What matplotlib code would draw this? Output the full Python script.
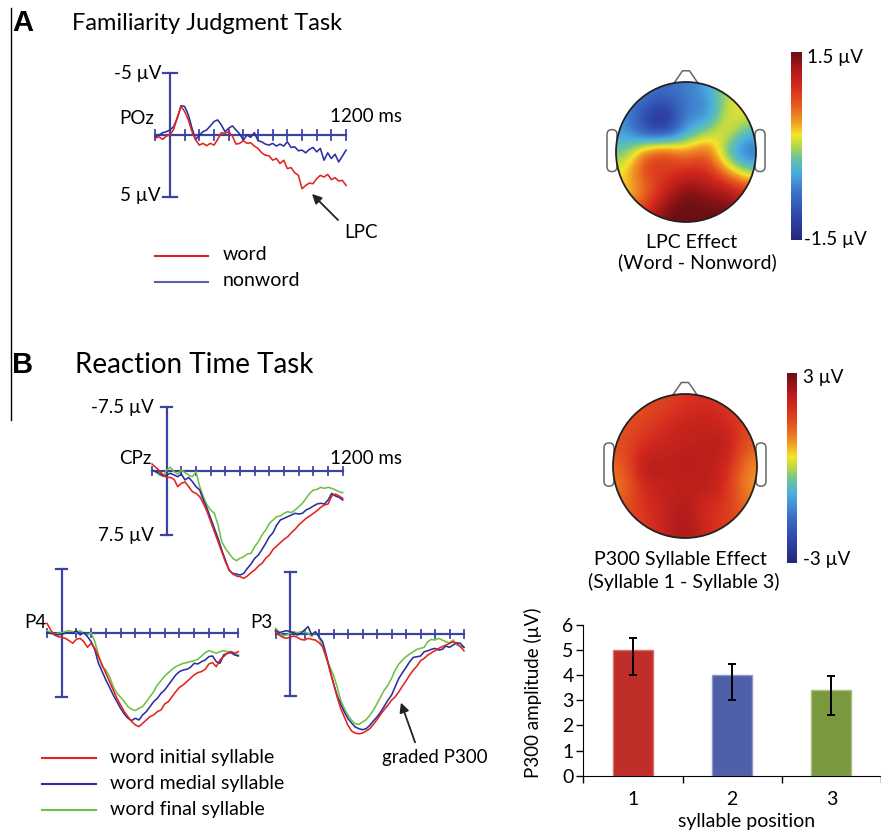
import matplotlib.pyplot as plt
import numpy as np
from matplotlib.colors import LinearSegmentedColormap
from matplotlib.patches import Circle, FancyBboxPatch

plt.rcParams['font.family'] = ['Lato', 'DejaVu Sans']

W, H = 881, 831

# ERP time base (ms), one sample every 25 ms
times = np.arange(-100, 1201, 25)

# Familiarity judgment task, POz (µV, negative plotted up)
poz_word = [0.27, 0.14, 0.36, 0.08, 0.0, -0.46, -1.45, -2.32, -1.91, -1.23,
            -0.27, 0.41, 0.82, 0.68, 0.87, 0.68, 0.82, 0.36, -0.19, -0.14,
            -0.27, 0.08, 0.74, 0.68, 0.46, 0.68, 0.63, 0.90, 1.09, 1.45,
            1.64, 1.69, 2.05, 1.91, 2.32, 2.05, 2.73, 2.65, 3.06, 3.28,
            4.37, 4.10, 3.91, 3.96, 3.55, 3.28, 3.42, 3.20, 3.63, 3.47,
            3.74, 3.69, 4.10]
poz_nonword = [0.14, 0.0, -0.19, -0.27, -0.41, -0.68, -1.37, -2.38, -2.32, -1.64,
               -0.55, 0.36, 0.0, -0.27, -0.41, -0.74, -1.09, -1.23, -0.82, -0.27,
               -0.55, -0.74, -0.41, -0.08, 0.41, 0.0, 0.19, -0.19, 0.46, 0.55,
               0.74, 0.82, 0.68, 0.90, 0.74, 0.90, 0.55, 1.01, 0.96, 1.28,
               1.23, 1.45, 1.17, 1.01, 1.37, 1.09, 2.05, 1.45, 1.91, 1.56,
               2.19, 1.72, 1.23]

# Reaction time task: CPz, P4, P3 for initial / medial / final syllables
cpz_initial = [-0.82, -0.43, -0.04, 0.47, 0.75, 0.75, 0.98, 1.84, 1.45, 1.29,
               1.84, 2.43, 2.63, 3.02, 3.80, 4.78, 5.96, 7.14, 8.31, 9.49,
               10.67, 11.65, 12.12, 12.35, 12.43, 12.63, 12.35, 11.96, 11.65, 11.18,
               10.86, 10.27, 9.88, 9.22, 8.82, 8.43, 8.04, 7.73, 7.25, 6.86,
               6.35, 5.96, 5.57, 5.29, 4.98, 4.67, 4.27, 4.00, 3.88, 2.94,
               2.71, 2.94, 3.22]
cpz_medial = [-0.12, 0.08, 0.27, 0.59, 0.47, 0.27, 0.47, 0.67, 0.35, 1.06,
              0.75, 1.25, 1.84, 2.24, 3.41, 4.39, 5.57, 6.75, 7.92, 9.29,
              10.47, 11.65, 12.04, 12.12, 12.24, 12.04, 11.45, 10.94, 10.27, 9.88,
              9.22, 8.51, 7.73, 7.25, 6.35, 5.76, 5.57, 5.37, 5.18, 4.98,
              5.06, 4.98, 4.59, 4.39, 4.12, 3.88, 3.80, 3.88, 3.41, 2.63,
              2.94, 3.10, 3.41]
cpz_final = [-0.12, 0.08, 0.47, 0.59, -0.12, -0.43, 0.08, 0.35, -0.12, 0.20,
             0.47, 0.67, 0.08, 1.84, 3.02, 4.00, 4.59, 4.98, 6.35, 8.31,
             9.10, 9.69, 10.27, 10.55, 10.27, 10.08, 9.76, 9.69, 8.90, 8.31,
             7.53, 6.94, 6.16, 5.76, 5.37, 5.29, 4.98, 4.78, 4.90, 4.59,
             4.20, 3.80, 3.22, 2.63, 2.24, 2.16, 1.92, 2.04, 1.92, 2.04,
             2.24, 2.43, 2.55]

p4_initial = [-1.17, -0.39, 0.20, 0.39, 0.47, 0.59, 0.86, 1.17, 0.70, 0.59,
              0.98, 1.64, 1.17, 1.76, 2.73, 3.71, 4.69, 5.66, 6.64, 7.62,
              8.40, 9.18, 9.77, 10.35, 10.74, 10.94, 10.55, 10.16, 9.77, 9.57,
              9.18, 8.98, 8.28, 8.01, 7.42, 6.84, 6.33, 6.05, 5.66, 5.27,
              4.88, 4.61, 4.49, 4.22, 3.59, 3.44, 3.91, 3.13, 2.73, 2.34,
              2.15, 2.34, 2.15]
p4_medial = [-0.08, 0.0, 0.08, 0.20, 0.08, 0.0, -0.08, 0.0, -0.31, 0.20,
             -0.08, 0.39, 0.98, 1.95, 3.52, 4.49, 5.47, 6.33, 7.23, 8.01,
             8.79, 9.45, 9.96, 10.23, 9.96, 10.16, 9.57, 9.18, 8.59, 8.01,
             7.62, 7.03, 6.64, 6.05, 5.47, 4.88, 4.49, 4.30, 4.22, 3.98,
             3.52, 3.59, 3.32, 3.13, 2.73, 2.66, 3.32, 3.52, 2.54, 2.34,
             2.27, 2.54, 2.66]
p4_final = [-0.31, -0.08, 0.08, 0.0, -0.08, -0.20, -0.31, -0.20, -0.08, -0.31,
            0.0, 0.20, -0.08, 0.98, 2.54, 3.91, 4.30, 5.08, 6.25, 7.03,
            7.50, 8.01, 8.59, 8.91, 9.06, 8.79, 8.59, 8.01, 7.42, 6.84,
            6.05, 5.55, 5.00, 4.61, 4.22, 3.91, 3.71, 3.52, 3.44, 3.32,
            3.20, 3.05, 2.66, 2.27, 2.03, 2.19, 2.34, 2.15, 2.03, 2.15,
            2.15, 2.34, 2.54]

p3_initial = [-0.28, 0.12, 0.40, 0.52, 0.40, 0.24, 0.40, 0.65, 0.73, 0.52,
              0.65, 0.73, 1.05, 1.53, 2.74, 4.35, 5.97, 7.58, 8.99, 10.00,
              11.01, 11.69, 11.94, 12.02, 11.94, 11.69, 11.41, 10.89, 10.32, 9.68,
              9.11, 8.59, 7.98, 7.58, 6.98, 6.29, 5.65, 4.96, 4.35, 3.87,
              3.23, 2.94, 2.54, 2.26, 2.02, 1.73, 1.53, 1.33, 1.13, 0.93,
              1.13, 1.53, 2.02]
p3_medial = [-0.40, -0.16, -0.28, -0.40, -0.28, -0.16, 0.12, -0.08, -0.48, -0.89,
             0.12, -0.28, 0.32, 0.93, 2.54, 4.35, 5.97, 7.38, 8.47, 9.40,
             10.20, 10.73, 11.21, 11.41, 11.53, 11.41, 11.01, 10.48, 10.00, 9.40,
             8.71, 7.98, 7.38, 6.37, 5.36, 4.68, 4.03, 3.35, 2.82, 2.74,
             2.66, 2.14, 2.02, 1.85, 1.73, 1.94, 1.85, 1.45, 1.61, 1.33,
             1.05, 1.13, 1.61]
p3_final = [-0.69, -0.28, 0.24, 0.12, -0.08, -0.28, -0.16, -0.28, -0.28, -0.08,
            0.32, -0.28, 0.40, 1.53, 2.94, 3.95, 4.96, 6.37, 7.98, 8.99,
            9.80, 10.40, 10.81, 10.89, 10.60, 10.32, 9.80, 9.19, 8.39, 7.58,
            6.77, 6.17, 5.36, 4.35, 3.63, 3.15, 2.74, 2.42, 2.14, 1.85,
            1.73, 1.61, 0.93, 0.65, 0.73, 0.52, 0.73, 0.93, 1.05, 0.73,
            1.33, 1.45, 1.61]

# scalp distributions (µV), rows front -> back, columns left -> right
lpc_topo = [[-0.6, -0.7, -0.8, -0.7, -0.5, 0.0, 0.2],
            [-0.6, -1.1, -1.4, -0.6, -0.8, 0.1, 0.2],
            [-0.5, -1.2, -1.3, -0.5, -0.1, 0.3, -0.3],
            [-0.2, 0.7, 0.9, 0.4, 0.8, -0.3, -0.9],
            [0.2, 0.9, 0.8, 1.0, 1.0, 0.5, -0.1],
            [0.2, 0.5, 1.1, 1.5, 1.3, 1.3, 1.0],
            [0.5, 1.0, 1.5, 1.5, 1.5, 1.5, 1.2]]
p300_topo = [[1.4, 1.5, 1.6, 1.8, 1.9, 1.8, 1.5],
             [1.4, 1.6, 1.9, 2.1, 2.2, 2.0, 1.6],
             [1.5, 1.9, 2.1, 2.2, 2.2, 2.4, 1.3],
             [1.2, 2.5, 2.2, 2.4, 2.2, 2.1, 0.9],
             [1.0, 2.0, 2.2, 2.1, 2.4, 1.9, 0.8],
             [1.4, 1.8, 2.1, 2.5, 1.8, 1.8, 1.1],
             [1.5, 1.7, 2.1, 2.6, 2.0, 1.7, 1.3]]

# P300 amplitude by syllable position, with error bar bounds
syllable_pos = [1, 2, 3]
p300_amp = [5.0, 4.0, 3.4]
p300_low = [4.0, 3.0, 2.4]
p300_high = [5.47, 4.43, 3.97]

RED, BLUE, GREEN = '#E3231E', '#2B2F9E', '#6FC145'
AXIS_C = '#3D43A3'

# softened jet used for scalp maps
topo_cmap = LinearSegmentedColormap.from_list('topo', [
    (0.00, '#25287E'), (0.12, '#2E45A8'), (0.25, '#3C72C8'), (0.36, '#4AAEE0'),
    (0.44, '#6CC49A'), (0.50, '#B5D84A'), (0.56, '#F5E52A'), (0.63, '#F09A24'),
    (0.72, '#E65A20'), (0.82, '#D42A1E'), (0.92, '#A8181A'), (1.00, '#6B0F12')])

fig = plt.figure(figsize=(W / 100, H / 100), dpi=100)

# pixel-space layer for text, heads and annotations
canvas = fig.add_axes([0, 0, 1, 1], zorder=1)
canvas.axis('off')


def erp_axes(x0, y0, px_ms, px_uv):
    ax = fig.add_axes([0, 0, 1, 1], zorder=2)
    ax.set_xlim(-x0 / px_ms, (W - x0) / px_ms)
    ax.set_ylim((H - y0) / px_uv, -y0 / px_uv)
    ax.axis('off')
    return ax


def erp_frame(ax, px_ms, px_uv, cap_uv, cap_px, tick_px):
    ax.plot([-100, 1200], [0, 0], color=AXIS_C, lw=1.6)
    ax.plot([0, 0], [-cap_uv, cap_uv], color=AXIS_C, lw=1.6)
    for v in (-cap_uv, cap_uv):
        ax.plot([-cap_px / px_ms, cap_px / px_ms], [v, v], color=AXIS_C, lw=1.6)
    for t in range(-100, 1201, 100):
        if t != 0:
            ax.plot([t, t], [-tick_px / px_uv, tick_px / px_uv], color=AXIS_C, lw=1.3)


def erp_panel(x0, y0, px_ms, px_uv, cap_uv, cap_px, tick_px, traces):
    ax = erp_axes(x0, y0, px_ms, px_uv)
    erp_frame(ax, px_ms, px_uv, cap_uv, cap_px, tick_px)
    for vals, col in traces:
        ax.plot(times, vals, color=col, lw=1.15)
    return ax


def topomap(cx, cy, r, grid, vmax):
    im = canvas.imshow(np.array(grid), cmap=topo_cmap, vmin=-vmax, vmax=vmax,
                       extent=(cx - r, cx + r, cy + r, cy - r),
                       interpolation='bicubic', aspect='auto', zorder=1)
    im.set_clip_path(Circle((cx, cy), r, transform=canvas.transData))
    canvas.add_patch(Circle((cx, cy), r, fill=False, ec='#222222', lw=1.3, zorder=3))
    canvas.plot([cx - 0.18 * r, cx - 0.05 * r, cx + 0.05 * r, cx + 0.18 * r],
                [cy - 0.97 * r, cy - 1.16 * r, cy - 1.16 * r, cy - 0.97 * r],
                color='#666666', lw=1.1, zorder=2)
    for side in (-1, 1):
        ex = cx + side * (r + 4)
        canvas.add_patch(FancyBboxPatch((ex - 5, cy - 0.32 * r), 10, 0.6 * r,
                                        boxstyle='round,pad=0,rounding_size=5',
                                        fill=False, ec='#666666', lw=1.1, zorder=0))


def colorbar(x0, x1, y0, y1):
    canvas.imshow(np.linspace(1, 0, 256)[:, None], cmap=topo_cmap, vmin=0, vmax=1,
                  extent=(x0, x1, y1, y0), aspect='auto', zorder=1)


# ---- A: familiarity judgment task ----
canvas.plot([11, 11], [8, 420], color='black', lw=1.0)
canvas.text(12, 23, 'A', fontsize=21, fontweight='bold', family='Liberation Sans',
            ha='left', va='center')
canvas.text(72, 23, 'Familiarity Judgment Task', fontsize=17, ha='left', va='center')

erp_panel(170, 135, 0.1467, 12.3, 5, 7, 5,
          [(poz_nonword, BLUE), (poz_word, RED)])
lab = dict(fontsize=13.5, va='center')
canvas.text(161, 73, '-5 µV', ha='right', **lab)
canvas.text(161, 196, '5 µV', ha='right', **lab)
canvas.text(154, 119, 'POz', ha='right', **lab)
canvas.text(330, 117, '1200 ms', ha='left', **lab)
canvas.annotate('', xy=(310, 192), xytext=(340, 222),
                arrowprops=dict(arrowstyle='-|>', color='#222222', lw=1.3,
                                mutation_scale=14))
canvas.text(361, 233, 'LPC', ha='center', **lab)

canvas.plot([155, 208], [256, 256], color=RED, lw=1.5)
canvas.plot([155, 208], [282, 282], color='#5A5FB0', lw=1.5)
canvas.text(223, 255, 'word', ha='left', fontsize=14, va='center')
canvas.text(223, 281, 'nonword', ha='left', fontsize=14, va='center')

topomap(686, 152, 70, lpc_topo, 1.5)
colorbar(791, 802, 52, 240)
canvas.text(807, 57, '1.5 µV', ha='left', **lab)
canvas.text(804, 239, '-1.5 µV', ha='left', **lab)
canvas.text(692, 242, 'LPC Effect', ha='center', fontsize=14, va='center')
canvas.text(697, 262, '(Word - Nonword)', ha='center', fontsize=14, va='center')

# ---- B: reaction time task ----
canvas.text(12, 365, 'B', fontsize=21, fontweight='bold', family='Liberation Sans',
            ha='left', va='center')
canvas.text(75, 365, 'Reaction Time Task', fontsize=20, ha='left', va='center')

syll_traces = lambda a, b, c: [(c, GREEN), (b, BLUE), (a, RED)]
erp_panel(166.7, 471, 0.1467, 8.5, 7.5, 5.5, 4,
          syll_traces(cpz_initial, cpz_medial, cpz_final))
erp_panel(61.7, 633.3, 0.1472, 8.53, 7.5, 5.5, 4,
          syll_traces(p4_initial, p4_medial, p4_final))
erp_panel(290, 634, 0.145, 8.3, 7.5, 5.5, 4,
          syll_traces(p3_initial, p3_medial, p3_final))

canvas.text(154, 407, '-7.5 µV', ha='right', **lab)
canvas.text(154, 535, '7.5 µV', ha='right', **lab)
canvas.text(151, 458, 'CPz', ha='right', **lab)
canvas.text(330, 458, '1200 ms', ha='left', **lab)
canvas.text(47, 622, 'P4', ha='right', **lab)
canvas.text(273, 622, 'P3', ha='right', **lab)

canvas.annotate('', xy=(400, 700), xytext=(416, 745),
                arrowprops=dict(arrowstyle='-|>', color='#222222', lw=1.3,
                                mutation_scale=14))
canvas.text(435, 758, 'graded P300', ha='center', **lab)

for yy, col, name in [(758, RED, 'word initial syllable'),
                      (784, BLUE, 'word medial syllable'),
                      (810, GREEN, 'word final syllable')]:
    canvas.plot([42, 96], [yy, yy], color=col, lw=1.5)
    canvas.text(110, yy - 1, name, ha='left', fontsize=14, va='center')

topomap(685, 466, 72, p300_topo, 3)
colorbar(787, 797, 373, 563)
canvas.text(803, 377, '3 µV', ha='left', **lab)
canvas.text(803, 559, '-3 µV', ha='left', **lab)
canvas.text(680, 559, 'P300 Syllable Effect', ha='center', fontsize=14, va='center')
canvas.text(684, 582, '(Syllable 1 - Syllable 3)', ha='center', fontsize=14, va='center')

canvas.set_xlim(0, W)
canvas.set_ylim(H, 0)

# ---- bar chart of P300 amplitude ----
bx = fig.add_axes([583.3 / W, 1 - 775.7 / H, (W - 583.3) / W, (775.7 - 625) / H], zorder=3)
amp = np.array(p300_amp)
yerr = [amp - np.array(p300_low), np.array(p300_high) - amp]
bx.bar(syllable_pos, amp, width=0.405,
       color=['#BF2E28', '#4F5FA9', '#7A993E'],
       edgecolor=['#D8706A', '#8C96CC', '#A9BF7E'], linewidth=1.0,
       yerr=yerr, capsize=3, error_kw=dict(ecolor='black', elinewidth=1.4, capthick=1.4))
bx.set_xlim(0.5, 3.5)
bx.set_ylim(0, 6)
bx.set_yticks(range(7))
bx.set_xticks(syllable_pos)
bx.set_xticks([0.5, 1.5, 2.5, 3.5], minor=True)
bx.tick_params(axis='x', which='major', length=0, pad=11, labelsize=14)
bx.tick_params(axis='x', which='minor', length=5, width=1)
bx.tick_params(axis='y', length=5, width=1, pad=2, labelsize=14)
for s in ('top', 'right'):
    bx.spines[s].set_visible(False)
bx.patch.set_alpha(0)
canvas.text(533, 693, 'P300 amplitude (µV)', rotation=90, ha='center', va='center', fontsize=13.5)
canvas.text(747, 822, 'syllable position', ha='center', va='center', fontsize=14)

fig.savefig('out.png', dpi=100)
